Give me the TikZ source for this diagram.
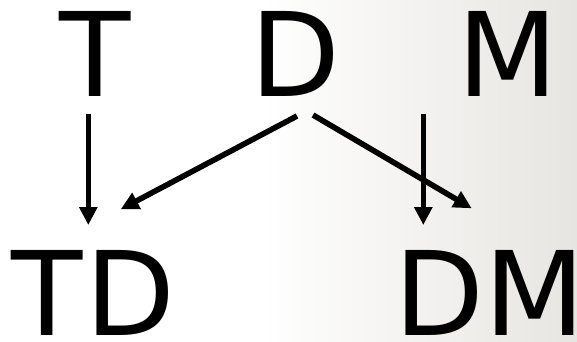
\documentclass[tikz,border=0pt]{standalone}
\usepackage{fontspec}
\setmainfont{DejaVu Sans}
\usetikzlibrary{arrows.meta}
\definecolor{bggrey}{RGB}{231,229,225}
\begin{document}
\begin{tikzpicture}[x=1pt,y=-1pt,
  letter/.style={inner sep=0pt,outer sep=0pt,anchor=base west,
    font=\fontsize{116.7}{120}\selectfont},
  conn/.style={line width=5.6pt,-{Triangle[length=18pt,width=17.5pt]}}]
\useasboundingbox (0,0) rectangle (577,341);
\fill[white] (0,0) rectangle (577,341);
\shade[left color=white,right color=bggrey] (260,0) rectangle (577,341);
% top row
\node[letter] (T) at (59.4,96) {T};
\node[letter] (D) at (250.6,96) {D};
\node[letter] (M) at (457.6,96) {M};
% bottom row
\node[letter] (TD) at (11.4,335) {T\kern3pt D};
\node[letter] (DM) at (394.6,335) {DM};
% connector end points
\coordinate (tS) at (88.3,114);
\coordinate (tE) at (88.3,225);
\coordinate (dlS) at (297,116);
\coordinate (dlE) at (120.7,209.3);
\coordinate (drS) at (313,115);
\coordinate (drE) at (471.7,208.3);
\coordinate (mS) at (423.3,114);
\coordinate (mE) at (423.3,225);
\draw[conn] (tS) -- (tE);
\draw[conn] (dlS) -- (dlE);
\draw[conn] (drS) -- (drE);
\draw[conn] (mS) -- (mE);
\end{tikzpicture}
\end{document}
